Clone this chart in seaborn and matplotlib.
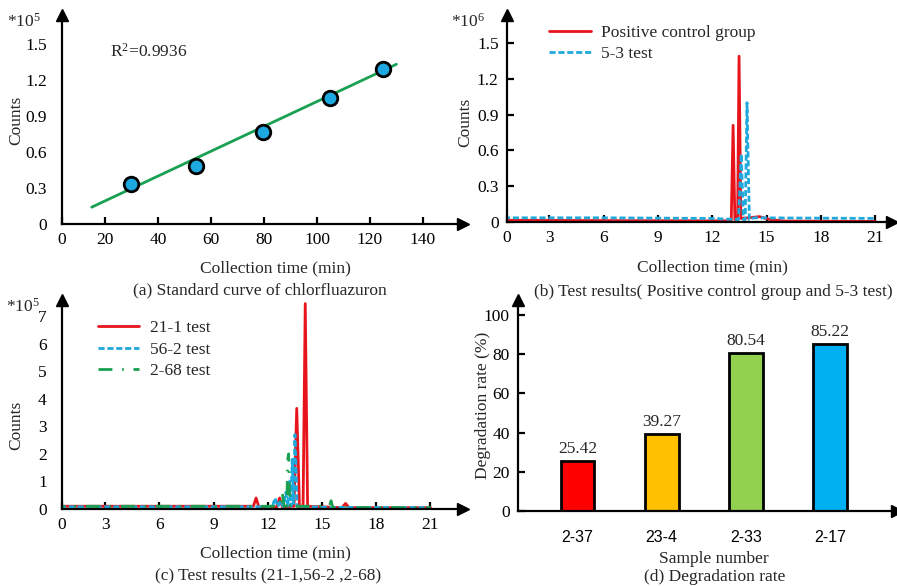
import matplotlib
matplotlib.use("Agg")
import matplotlib.pyplot as plt
import seaborn as sns

# ---- data ----
# (a) standard curve
std_time = [30, 54.5, 79.5, 105, 125]
std_counts = [0.333, 0.483, 0.767, 1.05, 1.29]
fit_time = [15, 130]
fit_counts = [0.14, 1.33]

# (b) positive control vs 5-3 test (x1e6)
pos_time = [0, 6, 12, 13.05, 13.15, 13.25, 13.4, 13.48, 13.58, 14.0, 14.6, 15.2, 16, 21]
pos_counts = [0.015, 0.012, 0.01, 0.01, 0.81, 0.02, 0.02, 1.39, 0.03, 0.035, 0.045, 0.02, 0.008, 0.005]
t53_time = [0, 6, 12, 13.45, 13.6, 13.72, 13.82, 13.92, 14.05, 14.3, 21]
t53_counts = [0.035, 0.035, 0.03, 0.02, 0.57, 0.02, 0.02, 1.0, 0.02, 0.035, 0.03]

# (c) 21-1, 56-2, 2-68 tests (x1e5)
t211_time = [0, 11.2, 11.35, 11.5, 12.5, 12.65, 12.8, 13.45, 13.6, 13.75, 13.95, 14.07, 14.2, 16.1, 16.3, 16.5, 21]
t211_counts = [0.1, 0.1, 0.4, 0.08, 0.08, 0.4, 0.08, 0.1, 3.65, 0.1, 0.1, 7.45, 0.1, 0.05, 0.2, 0.05, 0.05]
t562_time = [0, 12.25, 12.4, 12.55, 12.7, 12.85, 13.0, 13.1, 13.2, 13.28, 13.35, 13.42, 13.5, 13.62, 15.2, 21]
t562_counts = [0.08, 0.08, 0.4, 0.08, 0.3, 0.08, 0.6, 0.1, 1.0, 0.1, 1.8, 0.2, 2.7, 0.1, 0.06, 0.05]
t268_time = [0, 12.7, 12.8, 12.9, 13.0, 13.05, 13.1, 13.15, 13.22, 13.3, 13.4, 15.4, 15.5, 15.6, 21]
t268_counts = [0.1, 0.1, 0.6, 0.1, 0.3, 0.1, 1.8, 2.0, 0.1, 0.25, 0.1, 0.1, 0.3, 0.05, 0.05]

# (d) degradation rate
samples = ["2-37", "23-4", "2-33", "2-17"]
rates = [25.42, 39.27, 80.54, 85.22]
bar_colors = ["#ff0000", "#ffc000", "#92d050", "#00b0f0"]

RED = "#e8141c"
BLUE = "#1fa9dc"
GREEN = "#19a052"
FS = 12.5

sns.set_style("ticks")
plt.rcParams["font.family"] = ["Liberation Serif", "DejaVu Serif"]
plt.rcParams["mathtext.default"] = "regular"
plt.rcParams["font.size"] = FS

W, H = 897, 586
fig = plt.figure(figsize=(W / 100, H / 100), dpi=100)


def box(l, t, r, b):
    return [l / W, 1 - b / H, (r - l) / W, (b - t) / H]


def pt(x, y):
    return x / W, 1 - y / H


def style_axes(ax):
    sns.despine(ax=ax)
    for s in ["left", "bottom"]:
        ax.spines[s].set_linewidth(1.6)
        ax.spines[s].set_color("black")
    ax.tick_params(direction="in", length=5, width=1.6, labelsize=FS, pad=6, colors="black")
    ax.plot(1, 0, ">k", ms=8, transform=ax.transAxes, clip_on=False)
    ax.plot(0, 1, "^k", ms=8, transform=ax.transAxes, clip_on=False)
    ax.set_xlabel("")
    ax.set_ylabel("")


# ---- (a) ----
ax_a = fig.add_axes(box(62, 15, 463, 224))
sns.lineplot(x=fit_time, y=fit_counts, color=GREEN, lw=2, ax=ax_a)
sns.scatterplot(x=std_time, y=std_counts, s=110, color="#1ea8e0", edgecolor="black",
                linewidth=2, zorder=3, ax=ax_a)
ax_a.set_xlim(3.8, 155.1)
ax_a.set_ylim(0, 1.74)
ax_a.set_xticks([3.8, 20, 40, 60, 80, 100, 120, 140])
ax_a.set_xticklabels(["0", "20", "40", "60", "80", "100", "120", "140"])
ax_a.set_yticks([0, 0.3, 0.6, 0.9, 1.2, 1.5])
ax_a.set_yticklabels(["0", "0.3", "0.6", "0.9", "1.2", "1.5"])
style_axes(ax_a)
ax_a.tick_params(axis="y", length=0, pad=11)
fig.text(*pt(110, 52), r"R$^2$=0.9936", fontsize=FS, va="center")
fig.text(*pt(7, 22), r"*10$^5$", fontsize=FS, va="center")
fig.text(*pt(16, 120), "Counts", rotation=90, fontsize=FS, ha="center", va="center")
fig.text(*pt(275, 268), "Collection time (min)", fontsize=FS, ha="center", va="center")
fig.text(*pt(260, 290), "(a) Standard curve of chlorfluazuron", fontsize=FS, ha="center", va="center")

# ---- (b) ----
ax_b = fig.add_axes(box(507, 15, 892, 222))
sns.lineplot(x=pos_time, y=pos_counts, sort=False, estimator=None, color=RED, lw=2,
             label="Positive control group", ax=ax_b)
sns.lineplot(x=t53_time, y=t53_counts, sort=False, estimator=None, color=BLUE, lw=2,
             linestyle=(0, (2.2, 1)), label="5-3 test", ax=ax_b)
ax_b.set_xlim(0.66, 21.93)
ax_b.set_ylim(0, 1.735)
ax_b.set_xticks([0.66, 3, 6, 9, 12, 15, 18, 21])
ax_b.set_xticklabels(["0", "3", "6", "9", "12", "15", "18", "21"])
ax_b.set_yticks([0, 0.3, 0.6, 0.9, 1.2, 1.5])
ax_b.set_yticklabels(["0", "0.3", "0.6", "0.9", "1.2", "1.5"])
style_axes(ax_b)
ax_b.legend(loc="upper left", bbox_to_anchor=(0.1, 0.97), frameon=False, fontsize=FS,
            handlelength=2.4, handletextpad=0.6, labelspacing=0.3, borderpad=0, borderaxespad=0.2)
fig.text(*pt(451, 22), r"*10$^6$", fontsize=FS, va="center")
fig.text(*pt(465, 122), "Counts", rotation=90, fontsize=FS, ha="center", va="center")
fig.text(*pt(712, 267), "Collection time (min)", fontsize=FS, ha="center", va="center")
fig.text(*pt(713, 292), "(b) Test results( Positive control group and 5-3 test)", fontsize=FS,
         ha="center", va="center")

# ---- (c) ----
ax_c = fig.add_axes(box(62, 300, 463, 509))
sns.lineplot(x=t211_time, y=t211_counts, sort=False, estimator=None, color=RED, lw=2,
             label="21-1 test", ax=ax_c)
sns.lineplot(x=t562_time, y=t562_counts, sort=False, estimator=None, color=BLUE, lw=2,
             linestyle=(0, (2.2, 1)), label="56-2 test", ax=ax_c)
sns.lineplot(x=t268_time, y=t268_counts, sort=False, estimator=None, color=GREEN, lw=2,
             linestyle=(0, (5, 3.5, 0.6, 3.5)), label="2-68 test", ax=ax_c)
ax_c.set_xlim(0.61, 22.8)
ax_c.set_ylim(0, 7.58)
ax_c.set_xticks([0.61, 3, 6, 9, 12, 15, 18, 21])
ax_c.set_xticklabels(["0", "3", "6", "9", "12", "15", "18", "21"])
ax_c.set_yticks(range(0, 8))
style_axes(ax_c)
ax_c.tick_params(axis="y", length=0, pad=11)
ax_c.legend(loc="upper left", bbox_to_anchor=(0.08, 0.92), frameon=False, fontsize=FS,
            handlelength=2.4, handletextpad=0.6, labelspacing=0.3, borderpad=0, borderaxespad=0.2)
fig.text(*pt(6, 307), r"*10$^5$", fontsize=FS, va="center")
fig.text(*pt(16, 425), "Counts", rotation=90, fontsize=FS, ha="center", va="center")
fig.text(*pt(275, 553), "Collection time (min)", fontsize=FS, ha="center", va="center")
fig.text(*pt(268, 575), "(c) Test results (21-1,56-2 ,2-68)", fontsize=FS, ha="center", va="center")

# ---- (d) ----
ax_d = fig.add_axes(box(518, 300, 897, 511))
sns.barplot(x=samples, y=rates, hue=samples, palette=bar_colors, legend=False, width=0.4,
            saturation=1, edgecolor="black", linewidth=2, ax=ax_d)
for cont in ax_d.containers:
    ax_d.bar_label(cont, fmt="%.2f", padding=3, fontsize=FS)
ax_d.set_xlim(-0.71, 3.8)
ax_d.set_ylim(0, 107.6)
ax_d.set_yticks([0, 20, 40, 60, 80, 100])
style_axes(ax_d)
ax_d.tick_params(axis="x", length=0, pad=14)
for lab in ax_d.get_xticklabels():
    lab.set_family(["Liberation Sans", "DejaVu Sans"])
    lab.set_fontsize(11.5)
fig.text(*pt(483, 405), "Degradation rate (%)", rotation=90, fontsize=FS, ha="center", va="center")
fig.text(*pt(714, 559), "Sample number", fontsize=FS, ha="center", va="center")
fig.text(*pt(715, 577), "(d) Degradation rate", fontsize=FS, ha="center", va="center")

fig.savefig("out.png", dpi=100)
